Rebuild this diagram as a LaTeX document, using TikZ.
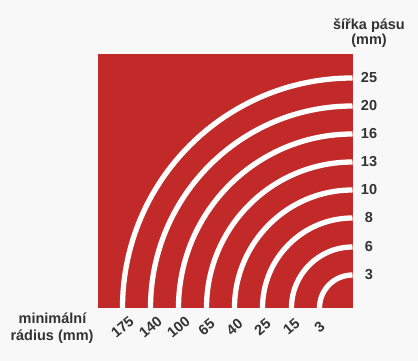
\documentclass[tikz,border=0pt]{standalone}
\usepackage{fontspec}
\setmainfont{Liberation Sans}
\definecolor{bg}{HTML}{F8F8F8}
\definecolor{redq}{HTML}{C12A28}
\definecolor{txt}{HTML}{333333}
\tikzset{
  lab/.style={text=txt, inner sep=0pt, font=\fontsize{14.5}{17}\selectfont\bfseries},
  band/.style={white, line width=5.3pt}
}
\begin{document}
\begin{tikzpicture}[x=1pt,y=1pt]
\fill[bg] (0,0) rectangle (418,361);
\useasboundingbox (0,0) rectangle (418,361);
\node[name=sq, fill=redq, minimum width=255pt, minimum height=254pt, inner sep=0pt, outer sep=0pt, anchor=south east] at (352.5,53) {};
\begin{scope}
  \clip (97.5,53) rectangle (352.5,307);
  \foreach \r in {230,202,174,146,118,90,61,33}
    \draw[band] (352.5-\r,53) arc[start angle=180, end angle=90, radius=\r];
\end{scope}
\foreach \r/\t [count=\i] in {230/25,202/20,174/16,146/13,118/10,90/8,61/6,33/3}
  \node[lab, name=w\i] at (369,53+\r) {\t};
\foreach \r/\t [count=\i] in {230/175,202/140,174/100,146/65,118/40,90/25,61/15,33/3}
  \node[lab, name=r\i, rotate=40] at (352.5-\r,34) {\t};
\node[lab, name=t1, anchor=base] at (369,331.5) {šířka pásu};
\node[lab, name=t2, anchor=base] at (369,316) {(mm)};
\node[lab, name=l1, anchor=base] at (52.5,37) {minimální};
\node[lab, name=l2, anchor=base] at (52,20) {rádius (mm)};
\end{tikzpicture}
\end{document}
